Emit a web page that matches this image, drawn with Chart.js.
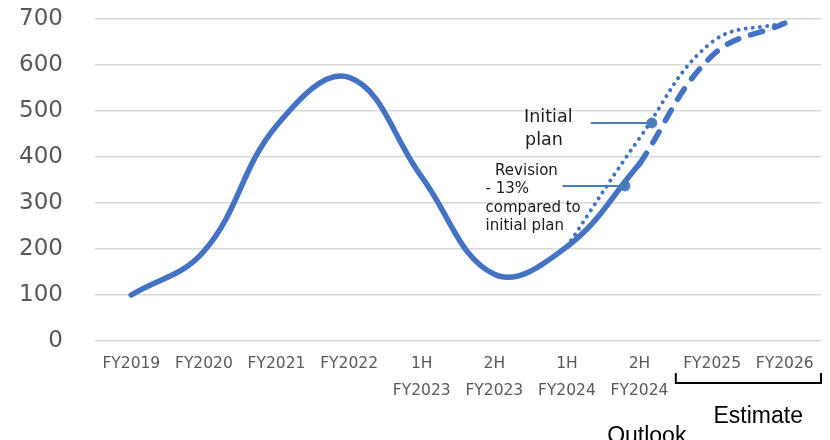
<!DOCTYPE html>
<html>
<head>
<meta charset="utf-8">
<script src="https://cdn.jsdelivr.net/npm/chart.js@4/dist/chart.umd.min.js"></script>
<style>
  html, body { margin: 0; padding: 0; background: #ffffff; }
  #wrap { width: 830px; height: 440px; }
</style>
</head>
<body>
<div id="wrap"><canvas id="c" width="830" height="440"></canvas></div>
<script>
// ---- data ----
const categories = [
  ['FY2019'], ['FY2020'], ['FY2021'], ['FY2022'],
  ['1H', 'FY2023'], ['2H', 'FY2023'], ['1H', 'FY2024'], ['2H', 'FY2024'],
  ['FY2025'], ['FY2026']
];
const yTicks = [0, 100, 200, 300, 400, 500, 600, 700];
const actualOutlook = [100, 195, 468, 573, 357, 145, 205, 385, null, null];
const revisedEstimate = [null, null, null, null, null, null, null, 385, 620, 691];
const initialPlan = [null, null, null, null, null, null, 205, 441, 650, 692];
// marker points (initial plan, revision) and where their callout lines begin
const markerX = [7.17, 6.80];
const markerY = [474, 337];
const calloutStartX = [6.33, 5.94];

const BLUE = '#4472C4';
const MARK = '#4A7EBB';

function toPoints(arr) {
  const out = [];
  arr.forEach((v, i) => { if (v !== null) out.push({ x: i, y: v }); });
  return out;
}

const calloutDatasets = markerX.map((mx, i) => ({
  data: [{ x: calloutStartX[i], y: markerY[i] }, { x: mx, y: markerY[i] }],
  borderColor: MARK, borderWidth: 2, pointRadius: 0, tension: 0, order: 2
}));

const overlay = {
  id: 'overlay',
  afterDatasetsDraw(chart) {
    const ctx = chart.ctx;
    const xs = chart.scales.x, ys = chart.scales.y;
    const px = v => xs.getPixelForValue(v);
    const py = v => ys.getPixelForValue(v);
    ctx.save();
    // Initial plan label
    ctx.fillStyle = '#1a1a1a';
    ctx.textBaseline = 'alphabetic';
    ctx.textAlign = 'left';
    ctx.font = '17.5px "DejaVu Sans"';
    const ix = px(5.41), iy = py(476);
    ctx.fillText('Initial', ix, iy);
    ctx.fillText('plan', ix + 1, iy + 23);
    // Revision label
    ctx.font = '15px "DejaVu Sans"';
    const rx = px(4.88), ry = py(361);
    ['  Revision', '- 13%', 'compared to', 'initial plan'].forEach((t, k) => {
      ctx.fillText(t, rx, ry + k * 18.5);
    });
    // Estimate bracket
    const bL = px(7.5), bR = px(9.5);
    const bTop = chart.chartArea.bottom + 32, bBot = chart.chartArea.bottom + 42;
    ctx.strokeStyle = '#000000';
    ctx.lineWidth = 2;
    ctx.beginPath();
    ctx.moveTo(bL, bTop); ctx.lineTo(bL, bBot); ctx.lineTo(bR, bBot); ctx.lineTo(bR, bTop);
    ctx.stroke();
    ctx.font = '23px "Liberation Sans"';
    ctx.textAlign = 'center';
    ctx.fillStyle = '#000000';
    ctx.fillText('Estimate', px(8.635), chart.chartArea.bottom + 82);
    ctx.fillText('Outlook', px(7.10), chart.chartArea.bottom + 102);
    ctx.restore();
  }
};

new Chart(document.getElementById('c'), {
  type: 'line',
  data: {
    datasets: [
      {
        label: 'Initial plan',
        data: toPoints(initialPlan),
        borderColor: BLUE, borderWidth: 4,
        borderDash: [0.01, 7.2], borderCapStyle: 'round',
        pointRadius: 0, tension: 0.4, order: 4
      },
      {
        label: 'Estimate',
        data: toPoints(revisedEstimate),
        borderColor: BLUE, borderWidth: 5.5,
        borderDash: [12.5, 12.5], borderCapStyle: 'round',
        pointRadius: 0, tension: 0.4, order: 3
      },
      {
        label: 'Results / Outlook',
        data: toPoints(actualOutlook),
        borderColor: BLUE, borderWidth: 5.5,
        borderCapStyle: 'round', borderJoinStyle: 'round',
        pointRadius: 0, tension: 0.4, order: 3
      },
      ...calloutDatasets,
      {
        label: 'Markers',
        data: markerX.map((x, i) => ({ x: x, y: markerY[i] })),
        showLine: false,
        pointRadius: 5, pointBackgroundColor: MARK, pointBorderColor: MARK,
        order: 1
      }
    ]
  },
  options: {
    responsive: false,
    animation: false,
    devicePixelRatio: 1,
    layout: { padding: { top: 19, right: 9, left: 0, bottom: 0 } },
    plugins: { legend: { display: false }, tooltip: { enabled: false } },
    scales: {
      x: {
        type: 'linear',
        min: -0.5, max: 9.5,
        afterBuildTicks(axis) { axis.ticks = categories.map((_, i) => ({ value: i })); },
        afterFit(axis) { axis.height = 99; },
        grid: { display: false, drawTicks: false },
        border: { display: false },
        ticks: {
          autoSkip: false, maxRotation: 0, minRotation: 0,
          padding: 10,
          color: '#595959',
          font: { family: 'DejaVu Sans', size: 15.5, lineHeight: 1.7 },
          callback: (v) => categories[v] || ''
        }
      },
      y: {
        min: 0, max: 700,
        afterBuildTicks(axis) { axis.ticks = yTicks.map(v => ({ value: v })); },
        afterFit(axis) { axis.width = 95; axis.paddingTop = 8; axis.paddingBottom = 8; },
        grid: { color: '#d9d9d9', lineWidth: 1.5, drawTicks: false },
        border: { display: false },
        ticks: {
          padding: 32,
          color: '#595959',
          font: { family: 'DejaVu Sans', size: 23 }
        }
      }
    }
  },
  plugins: [overlay]
});
</script>
</body>
</html>
